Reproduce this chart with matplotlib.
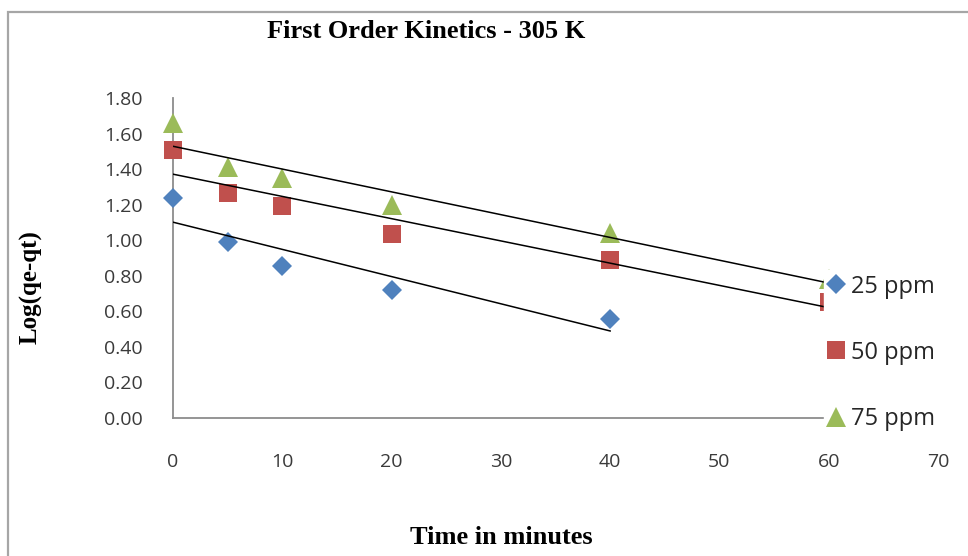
import numpy as np
import matplotlib
matplotlib.use("Agg")
import matplotlib.pyplot as plt
from matplotlib.patches import Rectangle

# Sampling times (minutes) and log(qe - qt) for each initial concentration
time_25 = [0, 5, 10, 20, 40]
log_25 = [1.24, 0.99, 0.855, 0.72, 0.555]

time_50 = [0, 5, 10, 20, 40, 60]
log_50 = [1.51, 1.265, 1.19, 1.035, 0.89, 0.65]

time_75 = [0, 5, 10, 20, 40, 60]
log_75 = [1.66, 1.41, 1.35, 1.20, 1.04, 0.78]

series_labels = ["25 ppm", "50 ppm", "75 ppm"]
series_colors = ["#4F81BD", "#C0504D", "#9BBB59"]

x_ticks = [0, 10, 20, 30, 40, 50, 60, 70]
y_ticks = [0.0, 0.2, 0.4, 0.6, 0.8, 1.0, 1.2, 1.4, 1.6, 1.8]

W, H = 968, 556
fig = plt.figure(figsize=(W / 100, H / 100), dpi=100)
fig.patch.set_facecolor("white")

# outer chart border (runs off the right and bottom edges)
fig.patches.append(Rectangle((8 / W, -0.1), 1.2, 1 - 12 / H + 0.1,
                             transform=fig.transFigure, fill=False,
                             edgecolor="#a6a6a6", linewidth=1.6))

ax = fig.add_axes([173 / W, 1 - 418 / H, 765 / W, 320 / H])

markers = ["D", "s", "^"]
sizes = [10.5, 13.5, 14]
data = [(time_25, log_25), (time_50, log_50), (time_75, log_75)]

for (t, y), lab, col, mk, ms in zip(data, series_labels, series_colors, markers, sizes):
    ax.plot(t, y, linestyle="none", marker=mk, markersize=ms, color=col,
            markeredgewidth=0, label=lab, zorder=3, clip_on=False)
    # linear trendline over the sampled range
    slope, intercept = np.polyfit(t, y, 1)
    xs = np.array([min(t), max(t)])
    ax.plot(xs, slope * xs + intercept, color="black", linewidth=1.1, zorder=4)

ax.set_xlim(0, 70)
ax.set_ylim(0, 1.8)
ax.set_xticks(x_ticks)
ax.set_yticks(y_ticks)
ax.set_yticklabels([f"{v:.2f}" for v in y_ticks])

for side in ["top", "right"]:
    ax.spines[side].set_visible(False)
for side in ["left", "bottom"]:
    ax.spines[side].set_color("#8c8c8c")
    ax.spines[side].set_linewidth(1.3)

ax.tick_params(axis="both", length=0, labelsize=14, labelcolor="#3a3a3a")
ax.tick_params(axis="x", pad=25)
ax.tick_params(axis="y", pad=22)
for lbl in ax.get_xticklabels() + ax.get_yticklabels():
    lbl.set_fontfamily("Open Sans")

leg = ax.legend(loc="upper left", bbox_to_anchor=(824 / W, 1 - 270 / H),
                bbox_transform=fig.transFigure, frameon=True, fancybox=False,
                framealpha=1.0, edgecolor="white", facecolor="white",
                prop={"family": "Open Sans", "size": 17}, labelspacing=1.78,
                handlelength=0.6, handletextpad=0.35, borderpad=0.2,
                borderaxespad=0)
for txt in leg.get_texts():
    txt.set_color("#262626")

# titles in a bold serif face
fig.text(426 / W, 1 - 31 / H, "First Order Kinetics - 305 K",
         ha="center", va="center", fontsize=19, fontweight="bold",
         family="Liberation Serif")
fig.text(501 / W, 1 - 537 / H, "Time in minutes",
         ha="center", va="center", fontsize=19, fontweight="bold",
         family="Liberation Serif")
fig.text(31 / W, 1 - 287 / H, "Log(qe-qt)", rotation=90,
         ha="center", va="center", fontsize=18, fontweight="bold",
         family="Liberation Serif")

fig.savefig("out.png", dpi=100)
